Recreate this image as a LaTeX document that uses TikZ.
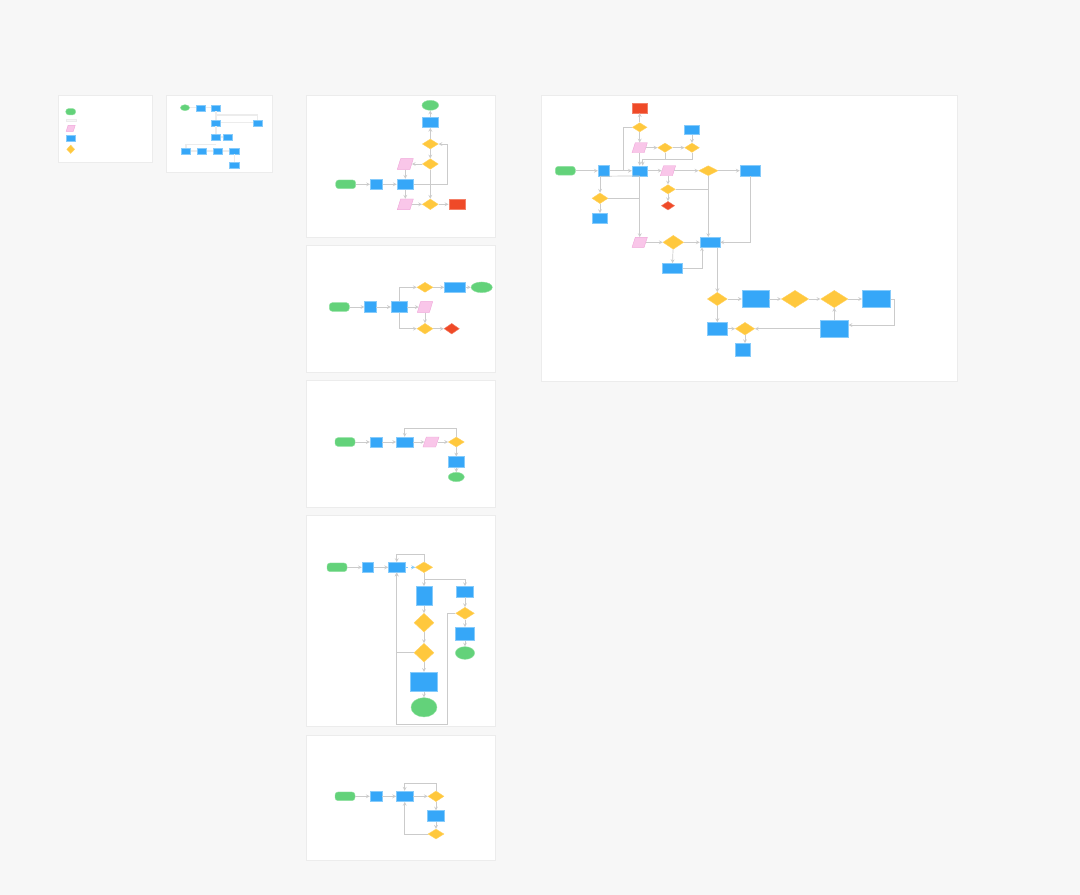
\documentclass[tikz,border=0pt]{standalone}
\usetikzlibrary{shapes.geometric}
\definecolor{bgc}{HTML}{F7F7F7}
\definecolor{grn}{HTML}{63D27A}
\definecolor{grnb}{HTML}{92E2A2}
\definecolor{blu}{HTML}{36A7F8}
\definecolor{blub}{HTML}{86CBFB}
\definecolor{yel}{HTML}{FFC83D}
\definecolor{pnk}{HTML}{F9C6E9}
\definecolor{pnkb}{HTML}{F0A6D9}
\definecolor{rd}{HTML}{EF4A28}
\definecolor{lin}{HTML}{CBCBCB}
\definecolor{pnb}{HTML}{ECECEC}
\tikzset{wh/.style 2 args={minimum width=#1pt, minimum height=#2pt}}
\begin{document}
\begin{tikzpicture}[x=1pt,y=-1pt]
%define
\tikzstyle{state_term} = [rectangle, rounded corners=3pt, inner sep=0pt, draw=grnb, fill=grn, line width=0.4pt]
\tikzstyle{state_end} = [ellipse, inner sep=0pt, draw=grnb, fill=grn, line width=0.4pt]
\tikzstyle{state_proc} = [rectangle, inner sep=0pt, draw=blub, fill=blu, line width=0.4pt]
\tikzstyle{state_io} = [trapezium, trapezium left angle=70, trapezium right angle=110, trapezium stretches=true, inner sep=0.5pt, draw=pnkb, fill=pnk, line width=0.4pt]
\tikzstyle{state_dec} = [diamond, inner sep=0.5pt, draw=yel!80!white, fill=yel, line width=0.4pt]
\tikzstyle{state_err} = [rectangle, inner sep=0pt, draw=rd!70!white, fill=rd, line width=0.4pt]
\tikzstyle{state_errd} = [diamond, inner sep=0.5pt, draw=rd!70!white, fill=rd, line width=0.4pt]
\tikzstyle{state_note} = [rectangle, inner sep=0pt, draw=pnb, fill=gray!6]
\tikzstyle{panel} = [fill=white, draw=pnb, line width=0.4pt]
\tikzstyle{line} = [draw=lin, line width=0.7pt]
\tikzstyle{arrow} = [->, >=stealth, draw=lin, line width=0.7pt]
\tikzstyle{arrowx} = [->, >=stealth, draw=blub, dashed, line width=0.7pt]
\tikzstyle{thick_line} = [draw=gray!15, line width=1.4pt]

%background
\fill[bgc] (0,0) rectangle (1080,895);
\useasboundingbox (0,0) rectangle (1080,895);

%block legend
\filldraw[panel] (58,95) rectangle (152,162);
%block small
\filldraw[panel] (166,95) rectangle (272,172);
%block1..5
\filldraw[panel] (306,95) rectangle (495,237);
\filldraw[panel] (306,245) rectangle (495,372);
\filldraw[panel] (306,380) rectangle (495,507);
\filldraw[panel] (306,515) rectangle (495,726);
\filldraw[panel] (306,735) rectangle (495,860);
%block big
\filldraw[panel] (541,95) rectangle (957,381);

%legend
\node[state_term, wh={10}{6.3}] (lg_term) at (70.7,111.7) {};
\node[state_note, wh={10}{2.5}] (lg_note) at (70.7,120) {};
\node[state_io, wh={9}{6}] (lg_io) at (70.7,128.3) {};
\node[state_proc, wh={9}{6.7}] (lg_proc) at (70.7,138.3) {};
\node[state_dec, wh={8}{8.5}] (lg_dec) at (70.7,149.3) {};

%small chart
\node[state_end, wh={9.3}{6}] (s_start) at (185,107.7) {};
\node[state_proc, wh={9.3}{6}] (s_a) at (201,107.7) {};
\node[state_proc, wh={9.3}{6}] (s_b) at (216,107.7) {};
\node[state_proc, wh={9.3}{6}] (s_c) at (216,122.7) {};
\node[state_proc, wh={9.3}{6}] (s_d) at (257.7,122.7) {};
\node[state_proc, wh={9.3}{6}] (s_e) at (216,137) {};
\node[state_proc, wh={9.3}{6}] (s_f) at (227.7,137) {};
\node[state_proc, wh={9.3}{6}] (s_g) at (186,151) {};
\node[state_proc, wh={9.3}{6}] (s_h) at (202,151) {};
\node[state_proc, wh={9.3}{6}] (s_i) at (217.7,151) {};
\node[state_proc, wh={10.7}{6}] (s_j) at (234.3,151) {};
\node[state_proc, wh={9.3}{6}] (s_k) at (234.3,165.3) {};
\coordinate (s_j1) at (216,115);
\coordinate (s_j2) at (216,144.3);
%line
\draw[thick_line] (s_start)--(s_a);
\draw[thick_line] (s_a)--(s_b);
\draw[thick_line] (s_b)--(s_c);
\draw[thick_line] (s_j1)-|(s_d.north);
\draw[thick_line] (s_c)--(s_d);
\draw[thick_line] (s_c)--(s_e);
\draw[thick_line] (s_e)--(s_f);
\draw[thick_line] (s_j2)-|(s_g.north);
\draw[thick_line] (s_g)--(s_h);
\draw[thick_line] (s_h)--(s_i);
\draw[thick_line] (s_i)--(s_j);
\draw[thick_line] (s_j)--(s_k);

%chart 1
\node[state_end, wh={16.7}{10}] (p1_end) at (430.3,105.3) {};
\node[state_proc, wh={16.7}{10.7}] (p1_step) at (430.3,122.3) {};
\node[state_dec, wh={16}{10}] (p1_dec) at (430.3,144) {};
\node[state_dec, wh={16}{10.7}] (p1_check) at (430.3,164) {};
\node[state_io, wh={16}{10.7}] (p1_in) at (405.3,164) {};
\node[state_term, wh={20}{8.7}] (p1_start) at (345.7,184.3) {};
\node[state_proc, wh={12}{10}] (p1_load) at (376.3,184.3) {};
\node[state_proc, wh={16.7}{10.7}] (p1_run) at (405.3,184.3) {};
\node[state_io, wh={16}{10.7}] (p1_out) at (405.3,204.3) {};
\node[state_dec, wh={16}{10.7}] (p1_test) at (430.3,204.3) {};
\node[state_err, wh={16}{10.7}] (p1_err) at (456.7,204.3) {};
\coordinate (p1_c) at (447.7,184.3);
%line
\draw[arrow](p1_start)--(p1_load);
\draw[arrow](p1_load)--(p1_run);
\draw[line](p1_run)--(p1_c);
\draw[arrow](p1_c)|-(p1_dec.east);
\draw[arrow](p1_dec)--(p1_step);
\draw[arrow](p1_step)--(p1_end);
\draw[arrow](p1_dec)--(p1_check);
\draw[arrow](p1_check)--(p1_in);
\draw[arrow](p1_in)--(p1_run);
\draw[arrow](p1_check)--(p1_test);
\draw[arrow](p1_run)--(p1_out);
\draw[arrow](p1_out)--(p1_test);
\draw[arrow](p1_test)--(p1_err);

%chart 2
\node[state_term, wh={20}{8.7}] (p2_start) at (339.3,307) {};
\node[state_proc, wh={11.3}{10.7}] (p2_load) at (370.3,307) {};
\node[state_proc, wh={16}{10.7}] (p2_run) at (399,307) {};
\node[state_io, wh={15.3}{10.7}] (p2_in) at (425,307) {};
\node[state_dec, wh={16}{10}] (p2_ok) at (425,287.3) {};
\node[state_proc, wh={21.3}{10}] (p2_save) at (455,287.3) {};
\node[state_end, wh={21.3}{10.7}] (p2_end) at (481.7,287.3) {};
\node[state_dec, wh={16}{10.7}] (p2_fail) at (425,328.7) {};
\node[state_errd, wh={15.3}{10.7}] (p2_err) at (451.7,328.7) {};
%line
\draw[arrow](p2_start)--(p2_load);
\draw[arrow](p2_load)--(p2_run);
\draw[arrow](p2_run)--(p2_in);
\draw[arrow](p2_run.north)|-(p2_ok.west);
\draw[arrow](p2_run.south)|-(p2_fail.west);
\draw[arrow](p2_in)--(p2_fail);
\draw[arrow](p2_ok)--(p2_save);
\draw[arrow](p2_save)--(p2_end);
\draw[arrow](p2_fail)--(p2_err);

%chart 3
\node[state_term, wh={20}{8.7}] (p3_start) at (345,442) {};
\node[state_proc, wh={12}{10}] (p3_load) at (376,442) {};
\node[state_proc, wh={16.7}{10}] (p3_run) at (404.7,442) {};
\node[state_io, wh={16}{10}] (p3_in) at (431,442) {};
\node[state_dec, wh={16}{10}] (p3_dec) at (456.3,442) {};
\node[state_proc, wh={16.7}{10.7}] (p3_save) at (456.3,462) {};
\node[state_end, wh={16}{9.3}] (p3_end) at (456.3,477) {};
\coordinate (p3_c) at (456.3,428.3);
%line
\draw[arrow](p3_start)--(p3_load);
\draw[arrow](p3_load)--(p3_run);
\draw[arrow](p3_run)--(p3_in);
\draw[arrow](p3_in)--(p3_dec);
\draw[arrow](p3_dec.north)--(p3_c)-|(p3_run.north);
\draw[arrow](p3_dec)--(p3_save);
\draw[arrow](p3_save)--(p3_end);

%chart 4
\node[state_term, wh={20}{8.7}] (p4_start) at (337,567.3) {};
\node[state_proc, wh={11.3}{10}] (p4_load) at (367.7,567.3) {};
\node[state_proc, wh={16.7}{10}] (p4_run) at (396.7,567.3) {};
\node[state_dec, wh={17.3}{10.7}] (p4_dec) at (424,567.3) {};
\node[state_proc, wh={16}{19.3}] (p4_list) at (424,596) {};
\node[state_dec, wh={20}{18.7}] (p4_q1) at (424,622.7) {};
\node[state_dec, wh={20}{18.7}] (p4_q2) at (424,652.7) {};
\node[state_proc, wh={26.7}{19.3}] (p4_show) at (424,681.7) {};
\node[state_end, wh={26}{19.3}] (p4_end) at (424,707.3) {};
\node[state_proc, wh={17.3}{10.7}] (p4_alt) at (465,591.7) {};
\node[state_dec, wh={18.7}{12}] (p4_q3) at (465,613.3) {};
\node[state_proc, wh={19.3}{13.3}] (p4_done) at (465,634) {};
\node[state_end, wh={19.3}{12.7}] (p4_end2) at (465,653) {};
\coordinate (p4_c1) at (424,554.3);
\coordinate (p4_c2) at (424,579.3);
\coordinate (p4_c3) at (447.7,724.3);
%line
\draw[arrow](p4_start)--(p4_load);
\draw[arrow](p4_load)--(p4_run);
\draw[arrowx](p4_run)--(p4_dec);
\draw[arrow](p4_dec.north)--(p4_c1)-|(p4_run.north);
\draw[arrow](p4_dec)--(p4_list);
\draw[arrow](p4_c2)-|(p4_alt.north);
\draw[arrow](p4_list)--(p4_q1);
\draw[arrow](p4_q1)--(p4_q2);
\draw[arrow](p4_q2)--(p4_show);
\draw[arrow](p4_show)--(p4_end);
\draw[arrow](p4_q2.west)-|(p4_run.south);
\draw[arrow](p4_q3.west)-|(p4_c3)-|(p4_run.south);
\draw[arrow](p4_alt)--(p4_q3);
\draw[arrow](p4_q3)--(p4_done);
\draw[arrow](p4_done)--(p4_end2);

%chart 5
\node[state_term, wh={20}{8.7}] (p5_start) at (345,796.3) {};
\node[state_proc, wh={12}{10.7}] (p5_load) at (376,796.3) {};
\node[state_proc, wh={16.7}{10.7}] (p5_run) at (404.7,796.3) {};
\node[state_dec, wh={16}{10.7}] (p5_dec) at (436,796.3) {};
\node[state_proc, wh={16.7}{10.7}] (p5_fix) at (436,816) {};
\node[state_dec, wh={16}{10}] (p5_again) at (436,834) {};
\coordinate (p5_c) at (436,783);
%line
\draw[arrow](p5_start)--(p5_load);
\draw[arrow](p5_load)--(p5_run);
\draw[arrow](p5_run)--(p5_dec);
\draw[arrow](p5_dec.north)--(p5_c)-|(p5_run.north);
\draw[arrow](p5_dec)--(p5_fix);
\draw[arrow](p5_fix)--(p5_again);
\draw[arrow](p5_again.west)-|(p5_run.south);

%big chart
\node[state_err, wh={15.3}{9.3}] (b_err) at (639.7,108.3) {};
\node[state_dec, wh={14.7}{9.3}] (b_d1) at (639.7,127.3) {};
\node[state_io, wh={15.3}{10}] (b_io1) at (639.7,147.7) {};
\node[state_dec, wh={14.7}{9.3}] (b_d2) at (665,147.7) {};
\node[state_dec, wh={14.7}{9.3}] (b_d3) at (692,147.7) {};
\node[state_proc, wh={15.3}{9.3}] (b_r0) at (692,130) {};
\node[state_term, wh={20}{8.7}] (b_start) at (565.3,170.7) {};
\node[state_proc, wh={11.3}{10.7}] (b_r1) at (603.7,170.7) {};
\node[state_proc, wh={15.3}{10}] (b_r2) at (639.7,170.7) {};
\node[state_io, wh={15.3}{10}] (b_io2) at (668,170.7) {};
\node[state_dec, wh={19.3}{10}] (b_d4) at (708.3,170.7) {};
\node[state_proc, wh={20.7}{10.7}] (b_r3) at (750.3,170.7) {};
\node[state_dec, wh={14.7}{9.3}] (b_d5) at (668,189.3) {};
\node[state_errd, wh={13.3}{8.7}] (b_ed) at (668,205.7) {};
\node[state_dec, wh={16}{10.7}] (b_d6) at (600,198.3) {};
\node[state_proc, wh={15.3}{10}] (b_r4) at (600,218.3) {};
\node[state_io, wh={15.3}{10}] (b_io3) at (639.7,242.3) {};
\node[state_dec, wh={20.7}{14}] (b_d7) at (673.3,242.3) {};
\node[state_proc, wh={20}{10}] (b_r5) at (710,242.3) {};
\node[state_proc, wh={20}{10}] (b_r6) at (672.3,268.3) {};
\node[state_dec, wh={20}{13.3}] (b_d8) at (717.3,299) {};
\node[state_proc, wh={20}{12.7}] (b_r7) at (717.3,328.7) {};
\node[state_dec, wh={19.3}{12.7}] (b_d9) at (745,328.7) {};
\node[state_proc, wh={15.3}{13.3}] (b_r8) at (743,350) {};
\node[state_proc, wh={27}{17}] (b_r9) at (755.5,299) {};
\node[state_dec, wh={27.3}{17.3}] (b_d10) at (795,299) {};
\node[state_dec, wh={27.3}{17.3}] (b_d11) at (834.3,299) {};
\node[state_proc, wh={28}{17.3}] (b_r10) at (876.3,299) {};
\node[state_proc, wh={28}{17.3}] (b_r11) at (834.3,328.7) {};
\coordinate (b_j1) at (623.7,170.7);
\coordinate (b_j2) at (642.7,159.3);
\coordinate (b_j3) at (702,247.3);
\coordinate (b_j4) at (894,325);
%line
\draw[arrow](b_d1)--(b_err);
\draw[line](b_d1.west)-|(b_j1);
\draw[arrow](b_d1)--(b_io1);
\draw[arrow](b_io1)--(b_r2);
\draw[arrow](b_io1)--(b_d2);
\draw[arrow](b_d2)--(b_d3);
\draw[arrow](b_r0)--(b_d3);
\draw[line](b_d2.south)--(b_d2.south |- b_j2);
\draw[arrow](b_d3.south)|-(b_j2)--(b_j2 |- b_r2.north);
\draw[arrow](b_start)--(b_r1);
\draw[arrow](b_r1)--(b_r2);
\draw[arrow](b_r2)--(b_io2);
\draw[arrow](b_io2)--(b_d4);
\draw[arrow](b_d4)--(b_r3);
\draw[arrow](b_io2)--(b_d5);
\draw[arrow](b_d5)--(b_ed);
\draw[line](b_d5.east)--(b_d5.east -| b_d4.south);
\draw[arrow](b_d4.south)--(b_d4.south |- b_r5.north);
\draw[arrow](b_r1.south -| b_d6.north)--(b_d6.north);
\draw[line](b_r1.south -| b_d6.north)--(b_r2.south);
\draw[line](b_d6.east)--(b_d6.east -| b_r2.south);
\draw[arrow](b_d6)--(b_r4);
\draw[arrow](b_r2)--(b_io3);
\draw[arrow](b_io3)--(b_d7);
\draw[arrow](b_d7)--(b_r5);
\draw[arrow](b_d7)--(b_r6);
\draw[arrow](b_r6.east)-|(b_j3);
\draw[arrow](b_r3.south)|-(b_r5.east);
\draw[arrow](b_r5.south -| b_d8.north)--(b_d8.north);
\draw[arrow](b_d8)--(b_r9);
\draw[arrow](b_d8)--(b_r7);
\draw[arrow](b_r7)--(b_d9);
\draw[arrow](b_d9.south)--(b_d9.south |- b_r8.north);
\draw[arrow](b_r9)--(b_d10);
\draw[arrow](b_d10)--(b_d11);
\draw[arrow](b_d11)--(b_r10);
\draw[arrow](b_r10.east)-|(b_j4)--(b_j4 -| b_r11.east);
\draw[arrow](b_r11)--(b_d11);
\draw[arrow](b_r11)--(b_d9);

\end{tikzpicture}
\end{document}
